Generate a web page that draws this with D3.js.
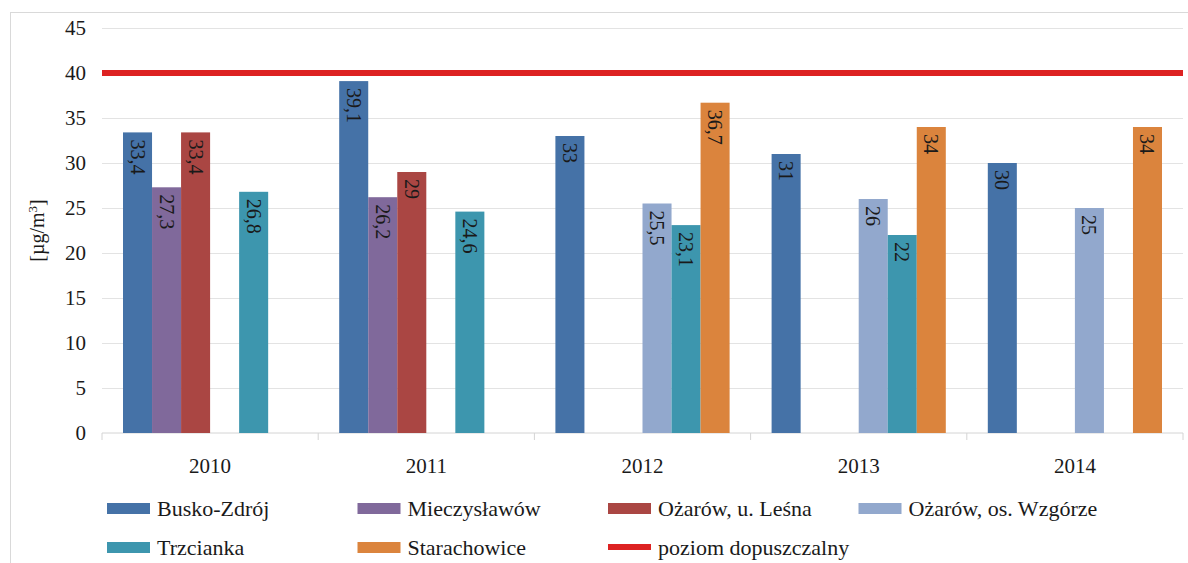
<!DOCTYPE html>
<html>
<head>
<meta charset="utf-8">
<title>NO2</title>
<script src="https://cdn.jsdelivr.net/npm/d3@7/dist/d3.min.js"></script>
<style>
body { margin: 0; background: #fff; }
text { font-family: "Liberation Serif", "DejaVu Serif", serif; fill: #1a1a1a; }
.grid line { stroke: #e3e3e3; }
.grid path { display: none; }
.axis--y path, .axis--y line { display: none; }
</style>
</head>
<body>
<svg id="chart" width="1188" height="563"></svg>
<script>
var years = ["2010", "2011", "2012", "2013", "2014"];
var stations = ["Busko-Zdrój", "Mieczysławów", "Ożarów, u. Leśna", "Ożarów, os. Wzgórze", "Trzcianka", "Starachowice"];
var colors = ["#4572A7", "#80699B", "#AA4643", "#92A8CD", "#3D96AE", "#DB843D"];
var busko = [33.4, 39.1, 33, 31, 30];
var mieczyslawow = [27.3, 26.2, null, null, null];
var ozarowLesna = [33.4, 29, null, null, null];
var ozarowWzgorze = [null, null, 25.5, 26, 25];
var trzcianka = [26.8, 24.6, 23.1, 22, null];
var starachowice = [null, null, 36.7, 34, 34];
var limit = 40;
var limitName = "poziom dopuszczalny";
var yTicks = [0, 5, 10, 15, 20, 25, 30, 35, 40, 45];

var series = [busko, mieczyslawow, ozarowLesna, ozarowWzgorze, trzcianka, starachowice];

var svg = d3.select("#chart");

// outer frame
svg.append("rect")
    .attr("x", 10.5).attr("y", 12.5)
    .attr("width", 1200).attr("height", 600)
    .attr("fill", "none").attr("stroke", "#d9d9d9");

var margin = { left: 102, right: 5, top: 28, bottom: 130 },
    width = 1188 - margin.left - margin.right,
    height = 563 - margin.top - margin.bottom;

var g = svg.append("g").attr("transform", "translate(" + margin.left + "," + margin.top + ")");

var x0 = d3.scaleBand().domain(years).range([0, width]);
var x1 = d3.scaleBand().domain(stations).range([21, x0.bandwidth() - 21]);
var y = d3.scaleLinear().domain([0, 45]).range([height, 0]);

g.append("g")
    .attr("class", "grid")
    .call(d3.axisLeft(y).tickValues(yTicks.slice(1)).tickSize(-width).tickFormat(""));

g.append("g")
    .attr("class", "axis axis--y")
    .call(d3.axisLeft(y).tickValues(yTicks).tickSize(0).tickPadding(16))
    .selectAll("text")
    .style("font-size", "21px")
    .style("font-family", "'Liberation Serif', serif")
    .attr("fill", "#1a1a1a");

// x axis: baseline with ticks between categories
var xa = g.append("g")
    .attr("transform", "translate(0," + height + ")");
xa.append("line").attr("x1", 0).attr("x2", width).attr("stroke", "#d4d4d4");
xa.selectAll(".sep")
    .data(years.concat(["end"]))
    .enter().append("line")
    .attr("x1", function(d, i) { return i * x0.bandwidth(); })
    .attr("x2", function(d, i) { return i * x0.bandwidth(); })
    .attr("y1", 0).attr("y2", 7)
    .attr("stroke", "#d4d4d4");
xa.selectAll(".yl")
    .data(years)
    .enter().append("text")
    .attr("x", function(d) { return x0(d) + x0.bandwidth() / 2; })
    .attr("y", 40)
    .attr("text-anchor", "middle")
    .style("font-size", "21px")
    .text(function(d) { return d; });

// bars
var bars = [];
years.forEach(function(yr, i) {
    series.forEach(function(s, j) {
        if (s[i] != null) bars.push({ year: yr, station: stations[j], value: s[i], color: colors[j] });
    });
});

g.selectAll(".bar")
    .data(bars)
    .enter().append("rect")
    .attr("x", function(d) { return x0(d.year) + x1(d.station); })
    .attr("y", function(d) { return y(d.value); })
    .attr("width", x1.bandwidth())
    .attr("height", function(d) { return height - y(d.value); })
    .attr("fill", function(d) { return d.color; });

g.selectAll(".lbl")
    .data(bars)
    .enter().append("text")
    .attr("transform", function(d) {
        return "translate(" + (x0(d.year) + x1(d.station) + x1.bandwidth() / 2) + "," + (y(d.value) + 7) + ") rotate(90)";
    })
    .attr("dy", "0.35em")
    .style("font-size", "20px")
    .text(function(d) { return String(d.value).replace(".", ","); });

// limit line
g.append("line")
    .attr("x1", 0).attr("x2", width)
    .attr("y1", y(limit)).attr("y2", y(limit))
    .attr("stroke", "#DD2222")
    .attr("stroke-width", 6);

// y title
svg.append("text")
    .attr("transform", "translate(44," + (margin.top + height / 2) + ") rotate(-90)")
    .attr("text-anchor", "middle")
    .style("font-size", "20px")
    .html("[µg/m<tspan dy='-7' font-size='13'>3</tspan><tspan dy='7'>]</tspan>");

// legend
var legendItems = stations.map(function(s, i) { return { name: s, color: colors[i], line: false }; })
    .concat([{ name: limitName, color: "#DD2222", line: true }]);

var lg = svg.selectAll(".legend")
    .data(legendItems)
    .enter().append("g")
    .attr("transform", function(d, i) {
        return "translate(" + (107 + (i % 4) * 250.5) + "," + (508 + Math.floor(i / 4) * 39) + ")";
    });

lg.append("rect")
    .attr("x", 0)
    .attr("y", function(d) { return d.line ? -3 : -5; })
    .attr("width", 43)
    .attr("height", function(d) { return d.line ? 6 : 11; })
    .attr("fill", function(d) { return d.color; });

lg.append("text")
    .attr("x", 50)
    .attr("dy", "0.35em")
    .style("font-size", "22px")
    .text(function(d) { return d.name; });
</script>
</body>
</html>
